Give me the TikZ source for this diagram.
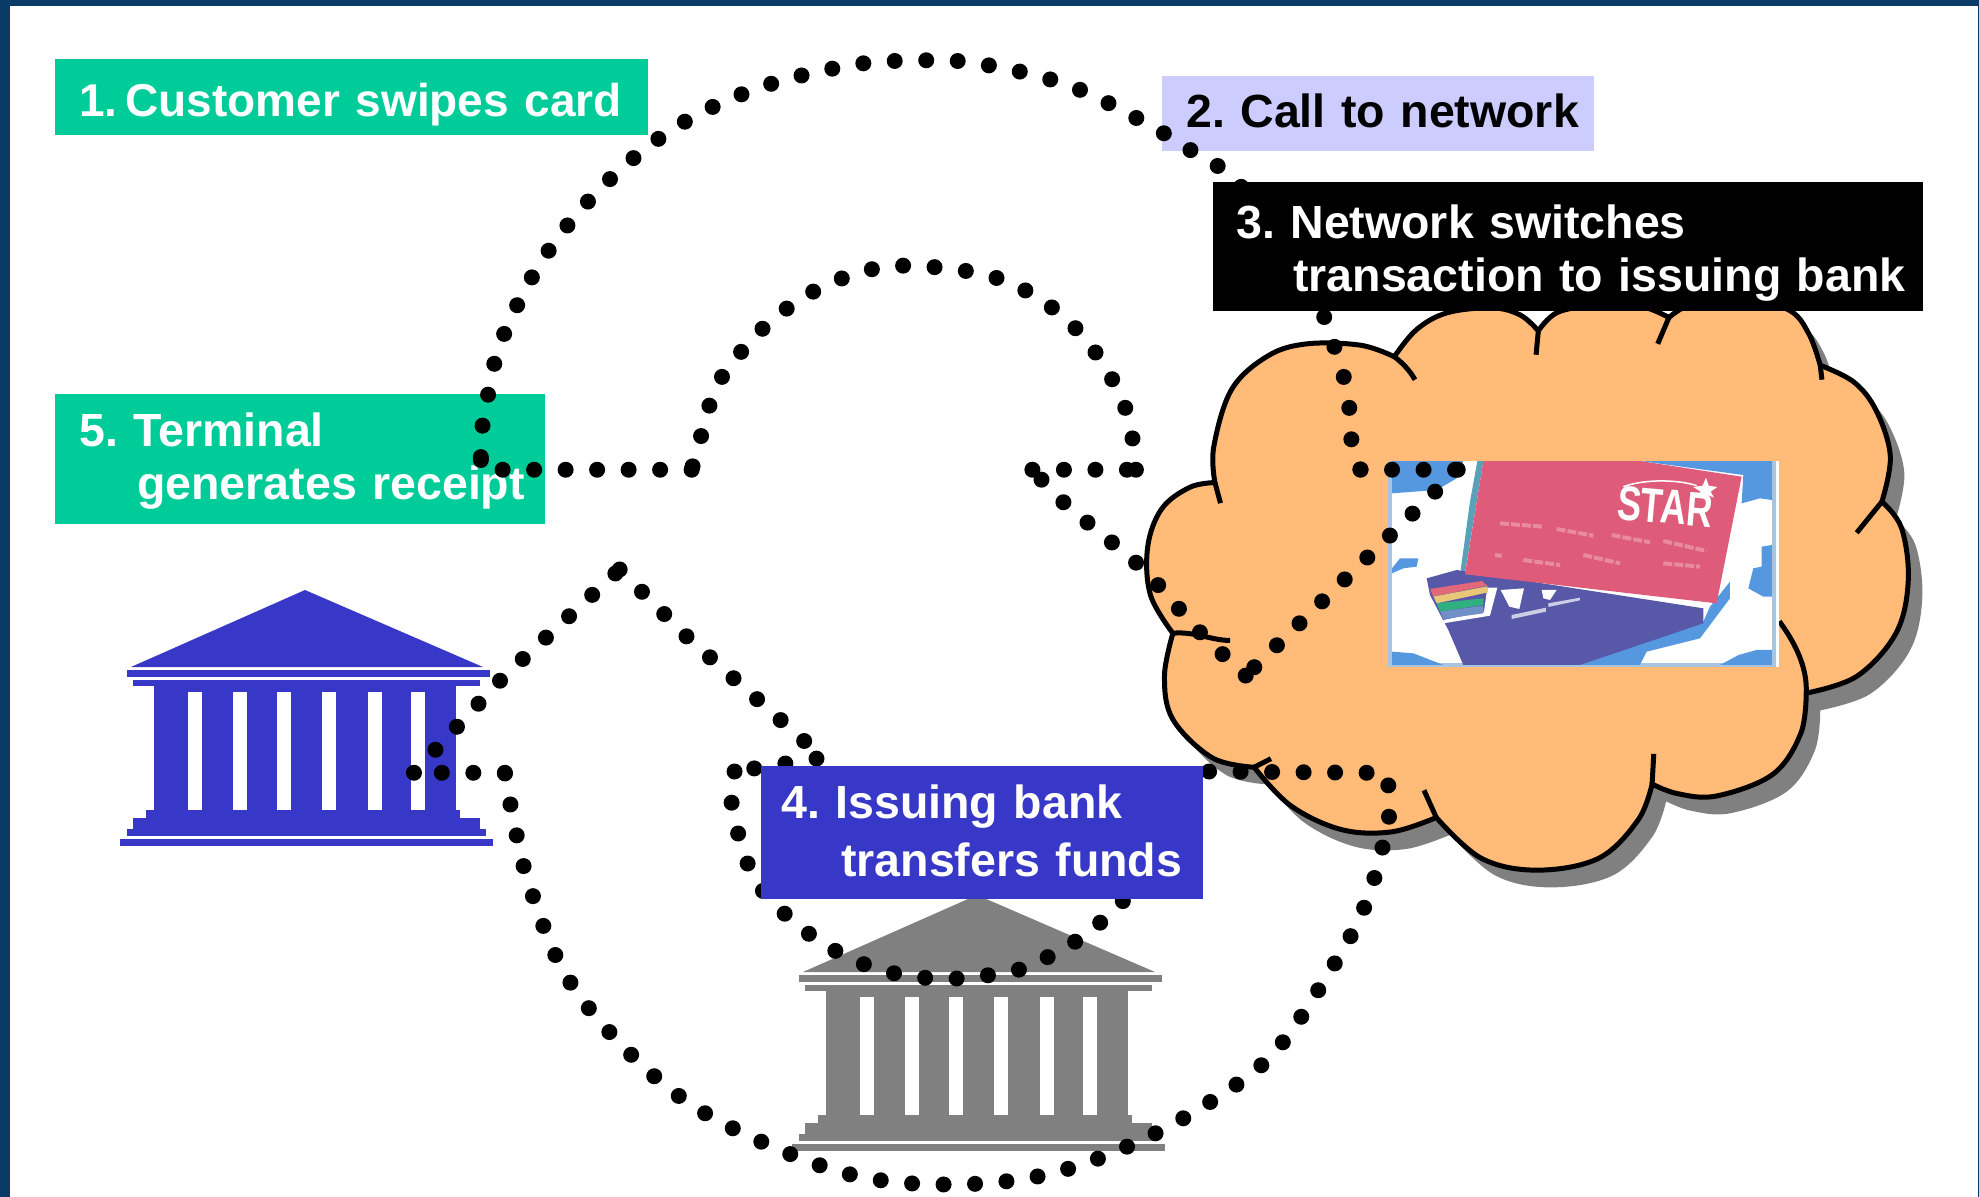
\documentclass[tikz,border=0pt]{standalone}
\usepackage{fontspec}
\setmainfont{Liberation Sans}
\definecolor{frame}{HTML}{0A3A66}
\definecolor{teal}{HTML}{00CC99}
\definecolor{lilac}{HTML}{CCCCFF}
\definecolor{indigo}{HTML}{3838C8}
\definecolor{cloudfill}{HTML}{FFBB77}
\definecolor{greytone}{HTML}{808080}
\definecolor{sky}{HTML}{5598E0}
\definecolor{palesky}{HTML}{A8C4E0}
\definecolor{cardred}{HTML}{DE5C7A}
\definecolor{carddark}{HTML}{5858A8}
\definecolor{cardtext}{HTML}{E88AA0}
\definecolor{bandA}{HTML}{E06878}
\definecolor{bandB}{HTML}{E8C878}
\definecolor{bandC}{HTML}{30B080}
\definecolor{bandD}{HTML}{7090C8}
\definecolor{cardedge}{HTML}{5AA0B8}
\newcommand{\labsize}{\fontsize{46.5}{53}\selectfont\bfseries\frenchspacing}
\newcommand{\toprule}[1]{\rule{0pt}{#1pt}}
\newcommand{\botrule}[1]{\rule[-#1pt]{0pt}{0pt}}
\tikzset{
  lab/.style={rectangle,anchor=north west,inner sep=0pt,align=left,font=\labsize},
  dotline/.style={draw=black,line width=16pt,line cap=round,dash pattern=on 0pt off 31.5pt},
  lobe/.style={smooth,tension=.6},
  tail/.style={draw=black,line width=5pt},
  scaled/.style={x=1.2621pt,y=-1.2627pt},
  cloudcoords/.style={shift={(1100,150)},x=0.5605pt,y=-0.4785pt},
  cardcoords/.style={shift={(1380,455)},x=0.3333pt,y=-0.3333pt}
}
\newcommand{\cloudoutline}{
  plot[lobe] coordinates {(205,695)(203,620)(235,500)(300,430)(370,405)(465,408)(525,432)}
  -- plot[lobe] coordinates {(525,432)(565,375)(620,340)(700,330)(750,345)(782,378)}
  -- plot[lobe] coordinates {(782,378)(815,340)(880,325)(960,325)(1015,350)}
  -- plot[lobe] coordinates {(1015,350)(1060,320)(1150,310)(1230,335)(1265,385)(1285,450)}
  -- plot[lobe] coordinates {(1285,450)(1345,485)(1385,545)(1410,640)(1395,735)}
  -- plot[lobe] coordinates {(1395,735)(1430,790)(1442,900)(1420,1010)(1350,1100)(1260,1135)}
  -- plot[lobe] coordinates {(1260,1135)(1250,1220)(1200,1305)(1100,1350)(1030,1345)(985,1325)}
  -- plot[lobe] coordinates {(985,1325)(960,1400)(890,1480)(780,1505)(680,1480)(600,1395)}
  -- plot[lobe] coordinates {(600,1395)(520,1425)(430,1420)(340,1370)(275,1290)}
  -- plot[lobe] coordinates {(275,1290)(200,1270)(130,1190)(115,1100)(130,1010)}
  -- plot[lobe] coordinates {(130,1010)(90,930)(85,830)(110,750)(160,705)(205,695)}
  -- cycle
}
\newcommand{\bankdraw}[3]{%
  \begin{scope}[shift={(#2,#3)},fill=#1]
    \fill (305,590)--(483,667)--(131,667)--cycle;
    \fill (127,670) rectangle (490,677);
    \fill (133,680) rectangle (480,686);
    \fill (154,686) rectangle (456,810);
    \fill (146,810) rectangle (460,818);
    \fill (133,818) rectangle (480,829);
    \fill (127,829) rectangle (486,836);
    \fill (120,839) rectangle (493,846);
    \foreach \a in {188,233,277,322,368,411}
      \fill[white] (\a,692) rectangle ++(14,118);
  \end{scope}}
\begin{document}
\begin{tikzpicture}[x=1pt,y=-1pt]
\useasboundingbox (0,0) rectangle (1979,1197);
\fill[white] (0,0) rectangle (1979,1197);
\fill[frame] (0,0) rectangle (1979,6);
\fill[frame] (0,0) rectangle (10,1197);
\fill[frame] (1978,0) rectangle (1979,1197);

% cloud
\begin{scope}[cloudcoords]
  \fill[greytone,shift={(25,36)}] \cloudoutline;
  \fill[cloudfill] \cloudoutline;
  \draw[tail,line join=miter] \cloudoutline;
  \draw[tail] (525,432) .. controls (540,445) and (552,460) .. (562,480);
  \draw[tail] (782,378) -- (778,428);
  \draw[tail] (1015,350) -- (995,405);
  \draw[tail] (1285,450) -- (1288,480);
  \draw[tail] (1395,735) -- (1350,800);
  \draw[tail] (1260,1135) .. controls (1262,1080) and (1240,1030) .. (1212,985);
  \draw[tail] (985,1325) -- (988,1262);
  \draw[tail] (600,1395) -- (578,1338);
  \draw[tail] (275,1290) -- (305,1272);
  \draw[tail] (130,1010) .. controls (165,1005) and (200,1025) .. (232,1025);
  \draw[tail] (205,695) -- (215,738);
\end{scope}

% card picture
\begin{scope}[cardcoords]
  \fill[white] (24,18) rectangle (1197,636);
  \fill[palesky] (24,18) rectangle (36,636);
  \fill[palesky] (1176,18) rectangle (1188,636);
  \fill[palesky] (24,624) rectangle (1188,636);
  \fill[sky] (36,18)--(250,18)--(230,70)--(170,105)--(36,115)--cycle;
  \fill[sky] (780,18)--(1176,18)--(1176,135)--(1140,130)--(1085,145)--(1090,60)--cycle;
  \fill[sky] (1145,275)--(1176,270)--(1176,425)--(1150,425)--(1105,400)--(1120,340)--(1145,335)--cycle;
  \fill[sky] (36,590)--(100,595)--(190,630)--(36,630)--cycle;
  \fill[sky] (1076,600)--(1130,585)--(1176,585)--(1176,630)--(1020,630)--cycle;
  \fill[sky] (600,630)--(970,500)--(990,455)--(1050,380)--(1050,430)--(990,510)--(960,550)--(800,590)--(780,630)--cycle;
  \fill[sky] (60,310)--(115,310)--(110,335)--(70,340)--(36,355)--(36,340)--cycle;
  \fill[cardedge] (292,18)--(310,18)--(255,355)--(242,345)--(270,140)--cycle;
  \fill[carddark] (140,370)--(230,345)--(970,460)--(970,505)--(600,630)--(250,630)--(205,525)--(150,420)--cycle;
  \fill[white] (190,505)--(330,482)--(352,398)--(322,398)--(312,470)--(190,495)--cycle;
  \fill[white] (362,405)--(432,400)--(418,462)--(388,455)--cycle;
  \fill[white] (485,405)--(530,405)--(510,435)--(490,430)--cycle;
  \fill[white!70!carddark] (395,480)--(498,458)--(498,470)--(395,492)--cycle;
  \fill[white!70!carddark] (505,445)--(600,428)--(600,436)--(505,456)--cycle;
  \fill[bandA] (150,402)--(305,378)--(322,392)--(160,425)--cycle;
  \fill[bandB] (160,425)--(322,394)--(325,412)--(170,445)--cycle;
  \fill[bandC] (170,445)--(310,430)--(310,450)--(180,470)--cycle;
  \fill[bandD] (180,470)--(310,452)--(310,475)--(190,492)--cycle;
  \fill[cardred] (255,358)--(310,18)--(780,18)--(1085,65)--(1010,445)--cycle;
  \node[rotate=-5,yscale=1.35,text=white,font=\fontsize{36}{36}\selectfont\bfseries] (star) at (855,155) {STAR};
  \draw[white,line width=1.5pt] (730,95) .. controls (800,70) and (900,75) .. (950,92);
  \fill[white] (978,68)--(986,92)--(1012,96)--(992,110)--(1002,128)--(978,118)--(952,128)--(962,110)--(940,96)--(968,92)--cycle;
  \draw[cardtext,line width=4pt,dash pattern=on 9pt off 2pt]
    (360,205)--(490,215) (530,222)--(640,242) (695,240)--(810,262) (850,258)--(980,288)
    (345,300)--(365,303) (430,315)--(540,330) (610,300)--(720,325) (850,325)--(960,335);
\end{scope}

% banks
\bankdraw{indigo}{0}{0}
\bankdraw{greytone}{672}{305}

% labels under the dots
\node[lab,fill=teal,text=white,minimum width=593pt,minimum height=76pt,text width=593pt] (box1) at (55,59)
  {\hspace*{24pt}\toprule{48}\fontsize{46}{53}\selectfont 1.\hspace{8pt}Customer swipes card};
\node[lab,fill=lilac,text=black,minimum width=432pt,minimum height=75pt,text width=432pt] (box2) at (1162,76)
  {\hspace*{24pt}2. Call to network\botrule{6}};
\node[lab,fill=teal,text=white,minimum width=490pt,minimum height=130pt,text width=490pt] (box5) at (55,394)
  {\hspace*{24pt}\toprule{37}5. Terminal\\\hspace*{82pt}generates receipt};

% dotted connectors
\begin{scope}[scaled]
  \coordinate (terminal) at (381,362);
  \coordinate (network) at (1078,372);
  \coordinate (cardR) at (1155,372);
  \coordinate (turnA) at (987,535);
  \coordinate (turnB) at (818,372);
  \coordinate (arcR) at (900,372);
  \coordinate (arcL) at (548,372);
  \coordinate (bankA) at (328,612);
  \coordinate (hookR) at (1100,622);
  \coordinate (peak) at (491,451);
  \coordinate (hookL) at (582,611);
  \coordinate (fourR) at (958,611);
  \draw[dotline] plot[smooth,tension=.6] coordinates {(terminal)(382,340)(386,316)(398,268)(431,204)(478,147)(535,101)(600,70)(672,52)(722,48)(773,50)(845,67)(907,97)(945,120)(975,140)(1030,200)(1052,260)(1060,283)(1068,313)(1071,350)(network)};
  \draw[dotline] (network) -- (cardR);
  \draw[dotline] (cardR) -- (turnA);
  \draw[dotline] plot[smooth,tension=.4] coordinates {(turnA)(950,500)(905,450)(845,400)(turnB)};
  \draw[dotline] (turnB) -- (arcR);
  \draw[dotline] plot[smooth,tension=.6] coordinates {(arcR)(893,327)(870,282)(838,247)(795,222)(745,212)(697,212)(650,228)(610,255)(578,290)(565,313)(557,340)(arcL)};
  \draw[dotline] (arcL) -- (terminal |- arcL) -- (terminal);
  \draw[dotline] (fourR) -- (1085,612) -- (hookR);
  \draw[dotline] plot[smooth,tension=.6] coordinates {(hookR)(1100,650)(1082,716)(1052,772)(1010,833)(963,870)(900,905)(830,930)(757,938)(682,932)(612,908)(545,873)(490,825)(447,770)(420,703)(408,655)(400,612)};
  \draw[dotline] (400,612) -- (bankA);
  \draw[dotline] (bankA) -- (400,535) -- (peak);
  \draw[dotline] (peak) -- (545,505) -- (652,600) -- (hookL);
  \draw[dotline] plot[smooth,tension=.6] coordinates {(hookL)(580,638)(595,690)(620,722)(660,752)(705,770)(755,775)(807,768)(828,759)(850,747)(870,732)(887,717)(920,670)(fourR)};
\end{scope}

% labels over the dots
\node[lab,fill=black,text=white,minimum width=710pt,minimum height=129pt,text width=710pt] (box3) at (1213,182)
  {\hspace*{23pt}\toprule{47}3. Network switches\\\hspace*{80pt}transaction to issuing bank};
\node[lab,fill=indigo,text=white,minimum width=442pt,minimum height=133pt,text width=442pt] (box4) at (761,766)
  {\hspace*{20pt}\toprule{39}4. Issuing bank\\[5pt]\hspace*{80pt}transfers funds\botrule{10}};
\end{tikzpicture}
\end{document}
